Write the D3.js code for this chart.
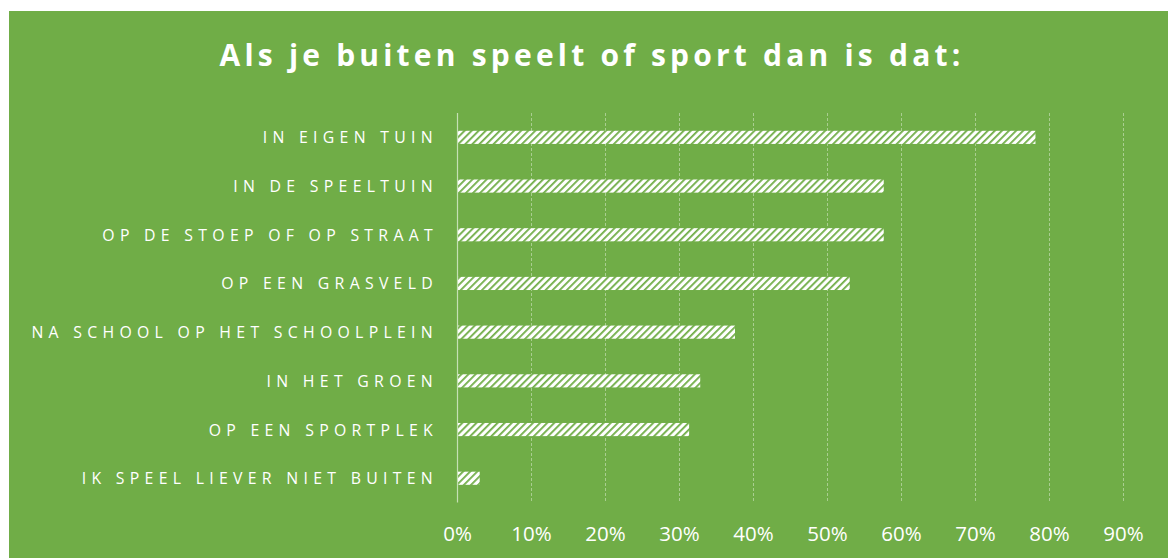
<html>
<head>
<script src="https://d3js.org/d3.v7.min.js"></script>
<style>
    body { margin: 0; background: #ffffff; }
    .cat { font-family: "Open Sans", sans-serif; font-size: 15.8px; letter-spacing: 5.3px; fill: #ffffff; }
    .tick-label { font-family: "Open Sans", sans-serif; font-size: 20.5px; fill: #ffffff; }
    .title { font-family: "Open Sans", sans-serif; font-size: 30px; font-weight: bold; letter-spacing: 4.2px; fill: #ffffff; }
</style>
</head>
<body>
<svg id="chart" width="1168" height="558"></svg>
<script>
    const categories = ["IN EIGEN TUIN", "IN DE SPEELTUIN", "OP DE STOEP OF OP STRAAT", "OP EEN GRASVELD",
        "NA SCHOOL OP HET SCHOOLPLEIN", "IN HET GROEN", "OP EEN SPORTPLEK", "IK SPEEL LIEVER NIET BUITEN"];
    const values = [78.1, 57.6, 57.6, 53.0, 37.5, 32.8, 31.3, 3.0];
    const ticks = [0, 10, 20, 30, 40, 50, 60, 70, 80, 90];
    const title = "Als je buiten speelt of sport dan is dat:";

    const svg = d3.select("#chart");
    const green = "#70AD47";

    svg.append("rect").attr("x", 9).attr("y", 11).attr("width", 1159).attr("height", 547).attr("fill", green);

    // hatch pattern (wide upward diagonal)
    const defs = svg.append("defs");
    const pat = defs.append("pattern")
        .attr("id", "hatch")
        .attr("patternUnits", "userSpaceOnUse")
        .attr("width", 5).attr("height", 5)
        .attr("patternTransform", "rotate(45)");
    pat.append("rect").attr("width", 5).attr("height", 5).attr("fill", "#ffffff");
    pat.append("rect").attr("x", 0).attr("width", 1.8).attr("height", 5).attr("fill", green);

    const x = d3.scaleLinear().domain([0, 90]).range([457.5, 1123.5]);
    const y = d3.scaleBand().domain(categories).range([113, 502.6]).paddingInner(0.73).paddingOuter(0.365);

    svg.append("text").attr("class", "title")
        .attr("x", 592).attr("y", 66)
        .attr("text-anchor", "middle")
        .text(title);

    // gridlines
    svg.selectAll("line.grid").data(ticks.filter(t => t > 0)).enter()
        .append("line").attr("class", "grid")
        .attr("x1", d => x(d)).attr("x2", d => x(d))
        .attr("y1", 113).attr("y2", 502.6)
        .attr("stroke", "#ffffff").attr("stroke-opacity", 0.4)
        .attr("stroke-width", 1)
        .attr("stroke-dasharray", "3,2");

    svg.selectAll("rect.bar").data(values).enter()
        .append("rect").attr("class", "bar")
        .attr("x", x(0))
        .attr("y", (d, i) => y(categories[i]))
        .attr("width", d => x(d) - x(0))
        .attr("height", y.bandwidth())
        .attr("fill", "url(#hatch)");

    // zero axis
    svg.append("line")
        .attr("x1", x(0)).attr("x2", x(0))
        .attr("y1", 113).attr("y2", 502.6)
        .attr("stroke", "#c5e0b4").attr("stroke-width", 1.2);

    svg.selectAll("text.cat").data(categories).enter()
        .append("text").attr("class", "cat")
        .attr("x", 438)
        .attr("y", d => y(d) + y.bandwidth() / 2)
        .attr("dy", "0.38em")
        .attr("text-anchor", "end")
        .text(d => d);

    svg.selectAll("text.tick-label").data(ticks).enter()
        .append("text").attr("class", "tick-label")
        .attr("x", d => x(d))
        .attr("y", 541)
        .attr("text-anchor", "middle")
        .text(d => d + "%");
</script>
</body>
</html>
